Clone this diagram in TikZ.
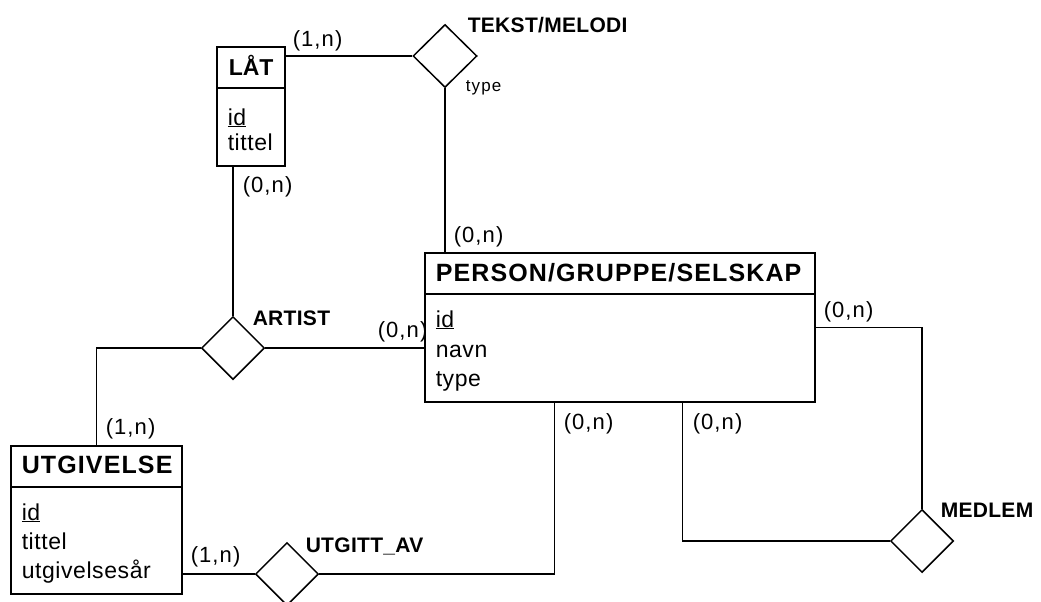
\documentclass[tikz,border=0pt]{standalone}
\usepackage{fontspec}
\setmainfont{Liberation Sans}
\usetikzlibrary{shapes.geometric}
\begin{document}
\begin{tikzpicture}[x=1pt,y=-1pt,
  line width=1.5pt,
  entity/.style={draw, rectangle, inner sep=0pt},
  rel/.style={draw, diamond, inner sep=0pt, minimum width=63pt, minimum height=63pt},
  head/.style={anchor=base west, inner sep=0pt, font=\fontsize{25}{25}\selectfont\bfseries\addfontfeature{LetterSpace=4.5}},
  attr/.style={anchor=base west, inner sep=0pt, font=\fontsize{23}{23}\selectfont\addfontfeature{LetterSpace=2.5}},
  card/.style={anchor=west, inner sep=0pt, font=\fontsize{22}{22}\selectfont\addfontfeature{LetterSpace=5}},
  rlabel/.style={anchor=base west, inner sep=0pt, font=\fontsize{21}{21}\selectfont\bfseries\addfontfeature{LetterSpace=1.5}},
]
\useasboundingbox[fill=white] (0,0) rectangle (1041,602);

% entities
\node[entity, minimum width=68pt, minimum height=119pt] (lat) at (251,106.5) {};
\node[entity, minimum width=390pt, minimum height=149pt] (pgs) at (620,327.5) {};
\node[entity, minimum width=171pt, minimum height=148pt] (utg) at (96.5,520) {};

\coordinate (latdiv) at (0,88);
\coordinate (pgsdiv) at (0,294);
\coordinate (utgdiv) at (0,487);
\draw (lat.west |- latdiv) -- (lat.east |- latdiv);
\draw (pgs.west |- pgsdiv) -- (pgs.east |- pgsdiv);
\draw (utg.west |- utgdiv) -- (utg.east |- utgdiv);

% entity texts
\node[head, font=\fontsize{23}{23}\selectfont\bfseries] (latH) at (228,75) {LÅT};
\node[attr] (latA1) at (227,125) {\underline{id}};
\node[attr] (latA2) at (227,150) {tittel};

\node[head] (pgsH) at (435,281) {PERSON/GRUPPE/SELSKAP};
\node[attr] (pgsA1) at (435,327) {\underline{id}};
\node[attr] (pgsA2) at (435,357) {navn};
\node[attr] (pgsA3) at (435,386) {type};

\node[head] (utgH) at (21,473) {UTGIVELSE};
\node[attr] (utgA1) at (21,520) {\underline{id}};
\node[attr] (utgA2) at (21,549) {tittel};
\node[attr] (utgA3) at (21,578) {utgivelsesår};

% relationships
\node[rel, minimum width=64pt] (tm) at (445,56) {};
\node[rel] (art) at (233,348) {};
\node[rel] (ua) at (287,574) {};
\node[rel] (med) at (922,541) {};

\node[rlabel] (tmL) at (467,33) {TEKST/MELODI};
\node[anchor=base west, inner sep=0pt, font=\fontsize{17}{17}\selectfont\addfontfeature{LetterSpace=7}] (tmT) at (465,92) {type};
\node[rlabel] (artL) at (252,325) {ARTIST};
\node[rlabel] (uaL) at (305,552) {UTGITT\_AV};
\node[rlabel] (medL) at (940,517) {MEDLEM};

% connectors
\draw (tm.west -| lat.east) -- (tm.west);
\draw (tm.south) -- (tm.south |- pgs.north);
\draw (art.north |- lat.south) -- (art.north);
\draw (art.west) -| ([xshift=86pt]utg.north west);
\draw (art.east) -- (art.east -| pgs.west);
\draw (ua.west -| utg.east) -- (ua.west);
\draw (ua.east) -| ([xshift=130pt]pgs.south west);
\draw ([xshift=258pt]pgs.south west) |- (med.west);
\draw ([yshift=-75pt]pgs.north east) -| (med.north);

% cardinalities
\node[card] (c1) at (292,41) {(1,n)};
\node[card] (c2) at (242,187) {(0,n)};
\node[card] (c3) at (453,237) {(0,n)};
\node[card] (c4) at (377,332) {(0,n)};
\node[card] (c5) at (823,312) {(0,n)};
\node[card] (c6) at (563,424) {(0,n)};
\node[card] (c7) at (692,424) {(0,n)};
\node[card] (c8) at (105,429) {(1,n)};
\node[card] (c9) at (190,557) {(1,n)};
\end{tikzpicture}
\end{document}
